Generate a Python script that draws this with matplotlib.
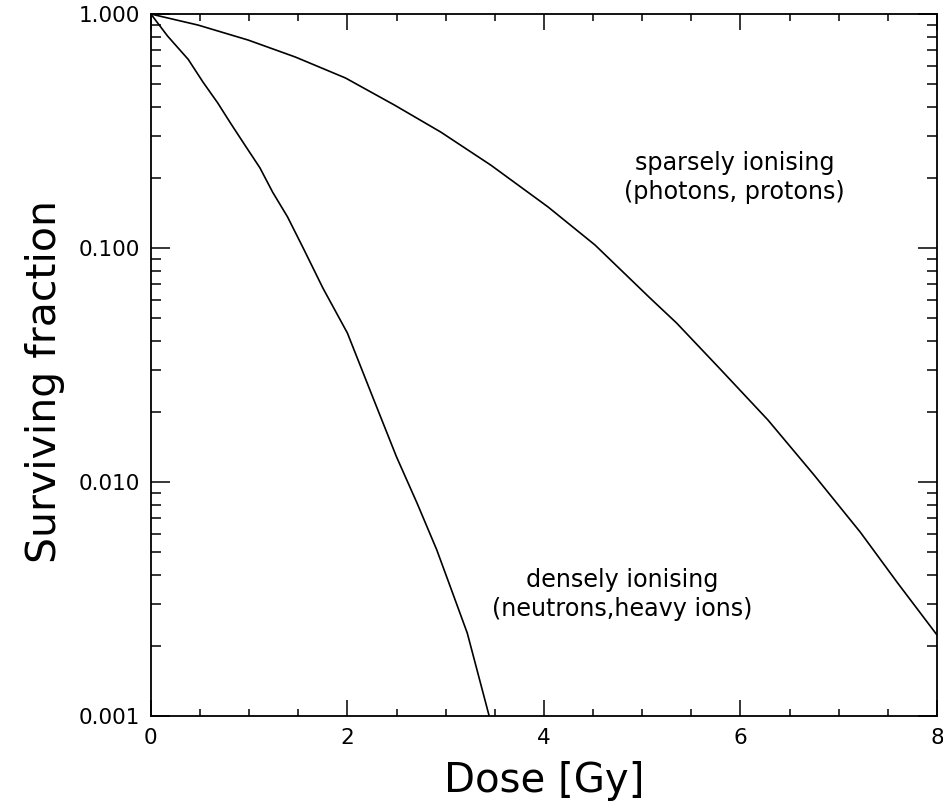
import matplotlib
matplotlib.use('Agg')
import matplotlib.pyplot as plt
from matplotlib.ticker import MultipleLocator, LogLocator, FixedLocator, NullFormatter

# dose in Gy and surviving fraction
dose_sparse = [0.0, 0.48, 0.99, 1.47, 1.98, 2.48, 2.95, 3.46, 4.04, 4.52,
               5.08, 5.35, 5.80, 6.28, 6.75, 7.22, 7.60, 8.0]
surv_sparse = [1.0, 0.897, 0.774, 0.655, 0.533, 0.408, 0.313, 0.226, 0.150, 0.103,
               0.0611, 0.0478, 0.0302, 0.0184, 0.0107, 0.0061, 0.0037, 0.00222]

dose_dense = [0.0, 0.17, 0.38, 0.53, 0.68, 0.81, 0.97, 1.11, 1.24, 1.39, 1.55,
              1.75, 2.0, 2.25, 2.50, 2.71, 2.91, 3.07, 3.22, 3.44]
surv_dense = [1.0, 0.805, 0.640, 0.512, 0.417, 0.342, 0.270, 0.220, 0.173, 0.136, 0.100,
              0.0675, 0.0433, 0.0235, 0.0128, 0.0081, 0.00512, 0.00336, 0.00226, 0.00101]

x_ticks = [0, 2, 4, 6, 8]
y_ticks = [0.001, 0.01, 0.1, 1.0]
y_tick_labels = ['0.001', '0.010', '0.100', '1.000']

plt.rcParams['font.family'] = ['DejaVu Sans']

fig = plt.figure(figsize=(9.43, 8.06), dpi=100)
ax = fig.add_axes([0.160, 0.1117, 0.8336, 0.8709])

ax.plot(dose_sparse, surv_sparse, color='black', lw=1.2)
ax.plot(dose_dense, surv_dense, color='black', lw=1.2)

ax.set_yscale('log')
ax.set_xlim(0, 8)
ax.set_ylim(0.001, 1.0)

ax.xaxis.set_major_locator(FixedLocator(x_ticks))
ax.xaxis.set_minor_locator(MultipleLocator(0.5))
ax.yaxis.set_major_locator(FixedLocator(y_ticks))
ax.yaxis.set_minor_locator(LogLocator(base=10, subs=range(2, 10)))
ax.yaxis.set_minor_formatter(NullFormatter())
ax.set_yticklabels(y_tick_labels)

ax.tick_params(which='both', direction='in', top=True, right=True, width=1.1, colors='black')
ax.tick_params(which='major', axis='x', length=11.5, pad=9, labelsize=15.5)
ax.tick_params(which='minor', axis='x', length=5)
ax.tick_params(which='major', axis='y', length=14, pad=8, labelsize=15.5)
ax.tick_params(which='minor', axis='y', length=7)

for s in ax.spines.values():
    s.set_linewidth(1.3)

ax.set_xlabel('Dose [Gy]', fontsize=29, labelpad=9)
ax.set_ylabel('Surviving fraction', fontsize=29.5)
ax.yaxis.set_label_coords(-0.109, 0.476)

ax.text(5.94, 0.2, 'sparsely ionising\n(photons, protons)', fontsize=17.2,
        ha='center', va='center', linespacing=1.3)
ax.text(4.80, 0.0033, 'densely ionising\n(neutrons,heavy ions)', fontsize=17.2,
        ha='center', va='center', linespacing=1.3)

fig.savefig('out.png', dpi=100)
